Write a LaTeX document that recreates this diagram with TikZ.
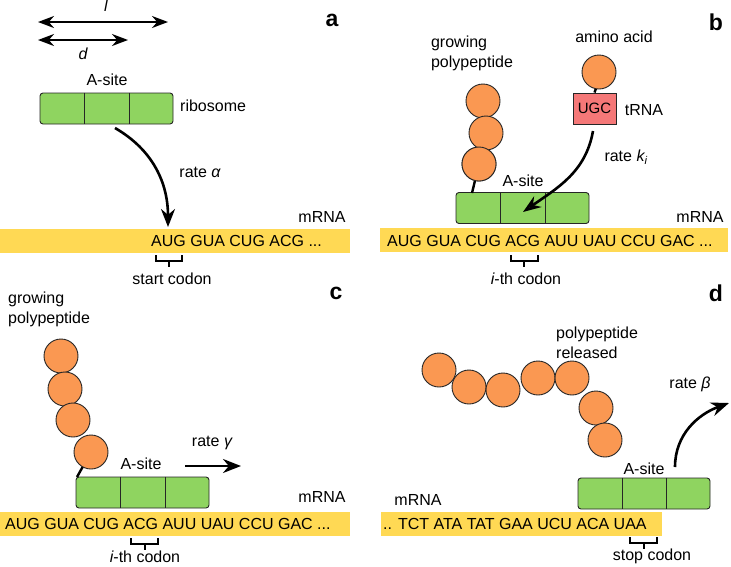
\documentclass[tikz,border=0pt]{standalone}
\usepackage{fontspec}
\setmainfont{Liberation Sans}
\usetikzlibrary{arrows.meta,positioning,calc}
\definecolor{ribogreen}{RGB}{143,212,96}
\definecolor{aaorange}{RGB}{250,152,82}
\definecolor{mrnayellow}{RGB}{255,217,84}
\definecolor{trnared}{RGB}{245,120,120}
\begin{document}
\begin{tikzpicture}[x=1pt,y=-1pt,
    txt/.style={font=\fontsize{16}{18}\selectfont,inner sep=0pt},
    panel/.style={font=\fontsize{23}{26}\selectfont\bfseries,inner sep=0pt},
    ribo/.style={draw=black!85,line width=0.9pt,rounded corners=3pt,fill=ribogreen,minimum width=133pt,minimum height=31pt,inner sep=0pt},
    aa/.style={circle,draw=black!85,line width=0.9pt,fill=aaorange,minimum size=34pt,inner sep=0pt},
    mrna/.style={fill=mrnayellow,inner sep=0pt,minimum height=24pt,anchor=north west},
    seq/.style={txt,anchor=west},
    bond/.style={line width=2.4pt},
    rate/.style={-{Stealth[length=18pt,width=14pt]},line width=2.6pt},
    brk/.style={line width=2.4pt}
  ]
    \useasboundingbox (0,0) rectangle (731,566);
    % a: initiation
    \node[panel] (la) at (332,20) {a};
    \coordinate (l0) at (38,22); \coordinate (l1) at (168,22);
    \coordinate (d0) at (38,40); \coordinate (d1) at (128,40);
    \draw[{Stealth[length=16pt,width=12pt]}-{Stealth[length=16pt,width=12pt]},line width=2pt] (l0) -- (l1);
    \draw[{Stealth[length=16pt,width=12pt]}-{Stealth[length=16pt,width=12pt]},line width=2pt] (d0) -- (d1);
    \node[txt] (ll) at (106,6) {\itshape l};
    \node[txt] (ld) at (83,54) {\itshape d};
    \node[ribo] (ra) at (106.5,108.5) {};
    \draw[black!85] ($(ra.north west)!1/3!(ra.north east)$) -- ($(ra.south west)!1/3!(ra.south east)$);
    \draw[black!85] ($(ra.north west)!2/3!(ra.north east)$) -- ($(ra.south west)!2/3!(ra.south east)$);
    \node[txt] (asa) at (107,80) {A-site};
    \node[txt,anchor=west] (riblab) at (180,106) {ribosome};
    \node[mrna,minimum width=350pt] (ma) at (0,229) {};
    \node[seq] (sa) at (151,241) {AUG GUA CUG ACG ...};
    \node[txt] (mla) at (322,217) {mRNA};
    \coordinate (ca) at (168,227);
    \draw[rate] (115,128) to[out=-30,in=90] (ca);
    \node[txt] (rta) at (200,172) {rate {\itshape α}};
    \draw[brk] (156,255) -- (156,261) -- (182,261) -- (182,255);
    \draw[brk] (169,261) -- (169,267);
    \node[txt] (sca) at (172,279) {start codon};
    % b: elongation
    \node[panel] (lb) at (716,22) {b};
    \node[txt,align=left] (gpb) at (472,53) {growing\\[2pt]polypeptide};
    \node[ribo] (rb) at (522.5,208) {};
    \draw[black!85] ($(rb.north west)!1/3!(rb.north east)$) -- ($(rb.south west)!1/3!(rb.south east)$);
    \draw[black!85] ($(rb.north west)!2/3!(rb.north east)$) -- ($(rb.south west)!2/3!(rb.south east)$);
    \node[aa] (b3) at (479,164) {};
    \draw[bond] (b3) -- (472,193);
    \node[aa] (b1) at (483,101) {};
    \node[aa] (b2) at (486,133) {};
    \node[aa] (b3) at (479,164) {};
    \node[txt] (aal) at (614,37) {amino acid};
    \node[draw=black!85,line width=0.9pt,fill=trnared,minimum width=43pt,minimum height=31pt,inner sep=0pt,font=\fontsize{15}{17}\selectfont] (trna) at (594.5,108.5) {UGC};
    \draw[bond] (599,80) -- (trna.north);
    \node[aa] (ab) at (599,72) {};
    \node[txt] (trl) at (644,110) {tRNA};
    \node[txt] (asb) at (523,181) {A-site};
    \node[mrna,minimum width=348pt] (mb) at (380,228) {};
    \node[seq] (sb) at (387,241) {AUG GUA CUG ACG AUU UAU CCU GAC ...};
    \node[txt] (mlb) at (700,217) {mRNA};
    \coordinate (cb) at (523,212);
    \draw[-{Stealth[length=18pt,width=13pt,open,fill=ribogreen]},line width=2.6pt] (593,131) to[out=-100,in=35] (cb);
    \node[txt] (rtb) at (626,157) {rate {\itshape k\textsubscript{i}}};
    \draw[brk] (511,255) -- (511,261) -- (538,261) -- (538,255);
    \draw[brk] (524,261) -- (524,267);
    \node[txt] (icb) at (526,279) {\itshape i\upshape-th codon};
    % c: elongation, translocation
    \node[panel] (lc) at (336,293) {c};
    \node[txt,align=left,anchor=west] (gpc) at (8,309) {growing\\[2pt]polypeptide};
    \node[ribo] (rc) at (142.5,492.5) {};
    \draw[black!85] ($(rc.north west)!1/3!(rc.north east)$) -- ($(rc.south west)!1/3!(rc.south east)$);
    \draw[black!85] ($(rc.north west)!2/3!(rc.north east)$) -- ($(rc.south west)!2/3!(rc.south east)$);
    \draw[bond] (91,452) -- (77,477);
    \node[aa] (c1) at (61,356) {};
    \node[aa] (c2) at (65,389) {};
    \node[aa] (c3) at (73,420) {};
    \node[aa] (c4) at (91,452) {};
    \node[txt] (asc) at (141,464) {A-site};
    \coordinate (c0) at (185,466); \coordinate (c1e) at (241,466);
    \draw[rate] (c0) -- (c1e);
    \node[txt] (rtc) at (212,443) {rate {\itshape γ}};
    \node[mrna,minimum width=350pt] (mc) at (0,512) {};
    \node[seq] (sc) at (5,524) {AUG GUA CUG ACG AUU UAU CCU GAC ...};
    \node[txt] (mlc) at (322,497) {mRNA};
    \draw[brk] (131,538) -- (131,544) -- (158,544) -- (158,538);
    \draw[brk] (145,544) -- (145,550);
    \node[txt] (icc) at (145,557) {\itshape i\upshape-th codon};
    % d: termination
    \node[panel] (ld) at (716,293) {d};
    \node[txt,align=left,anchor=west] (prd) at (556,343) {polypeptide\\[2pt]released};
    \foreach \x/\y [count=\k] in {439/370,469/387,503/390,538/378,572/378,596/408,605/440}
      \node[aa] (d\k) at (\x,\y) {};
    \node[ribo,minimum width=132pt] (rd) at (644,493.5) {};
    \draw[black!85] ($(rd.north west)!1/3!(rd.north east)$) -- ($(rd.south west)!1/3!(rd.south east)$);
    \draw[black!85] ($(rd.north west)!2/3!(rd.north east)$) -- ($(rd.south west)!2/3!(rd.south east)$);
    \node[txt] (asd) at (644,469) {A-site};
    \coordinate (bd0) at (675,467); \coordinate (bd1) at (729,403);
    \draw[rate] (bd0) to[out=90,in=200] (bd1);
    \node[txt] (rtd) at (690,384) {rate {\itshape β}};
    \node[mrna,minimum width=281pt] (md) at (381,512) {};
    \node[seq] (sd) at (383,524) {.. TCT ATA TAT GAA UCU ACA UAA};
    \node[txt] (mld) at (418,500) {mRNA};
    \draw[brk] (630,537) -- (630,543) -- (657,543) -- (657,537);
    \draw[brk] (644,543) -- (644,549);
    \node[txt] (scd) at (652,556) {stop codon};
\end{tikzpicture}
\end{document}
